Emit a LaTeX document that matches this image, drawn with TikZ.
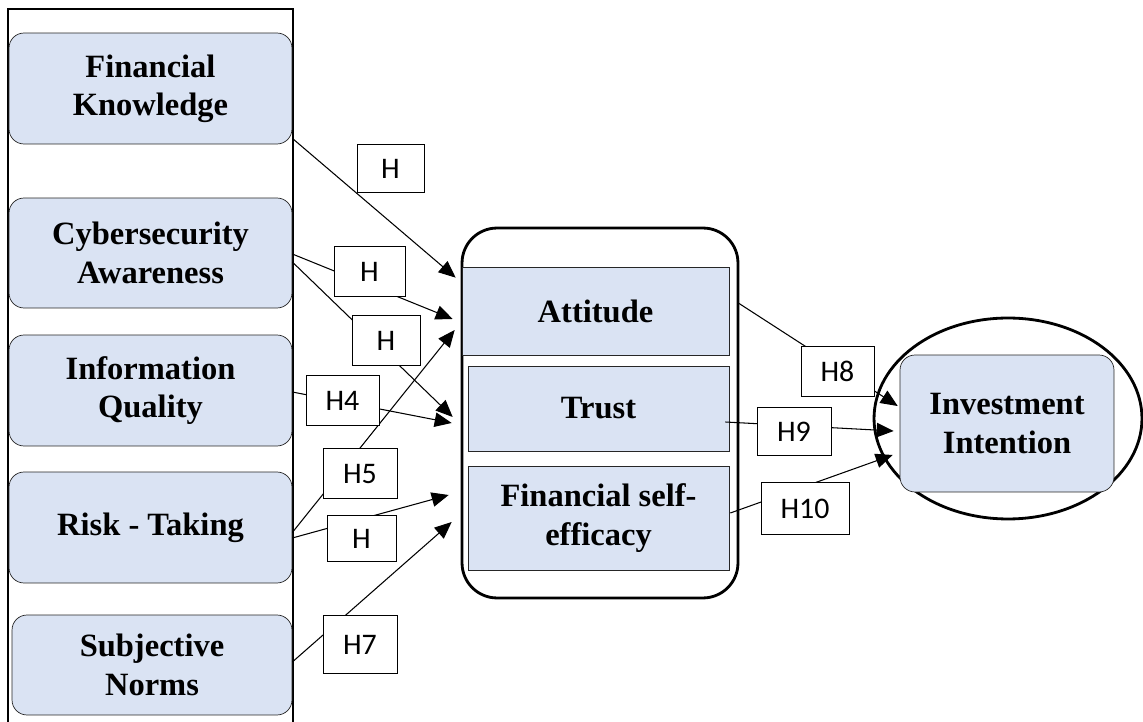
\documentclass[tikz,border=0pt]{standalone}
\usepackage{fontspec}
\setmainfont{Liberation Serif}
\newfontfamily\hypfont{Carlito}
\usetikzlibrary{shapes,arrows.meta,calc}
\definecolor{boxblue}{RGB}{218,227,243}
\newcommand{\bigbold}{\fontsize{18.5}{21.8}\selectfont\bfseries}
\tikzset{%
  factor/.style   = {draw=black!85, fill=boxblue, rectangle, rounded corners=0.3cm,
    align=center, font=\bigbold, inner sep=0pt}, % Antecedent
  mediator/.style = {draw=black!85, fill=boxblue, rectangle, align=center,
    font=\bigbold, inner sep=0pt}, % Mediator
  hyp/.style      = {draw, fill=white, rectangle, inner sep=0pt,
    font=\hypfont\fontsize{17}{20}\selectfont, text height=1.15em, text depth=0pt}, % Hypothesis
  link/.style     = {->, line width=0.6pt}
}

\begin{document}
\begin{tikzpicture}[x=0.02cm, y=-0.02cm, >={Triangle[length=3.4mm,width=2.9mm]}]
\useasboundingbox (0,0) rectangle (1143,722);
	% Frame round the antecedents :
	\draw[line width=1.1pt] (8,9) rectangle (293,740);
\draw
	% Antecedent blocks
	node at (150.5,88.5) [factor, minimum width=5.66cm, minimum height=2.22cm] (fk) {Financial\\Knowledge}
	node at (150.5,253) [factor, minimum width=5.66cm, minimum height=2.2cm] (ca) {Cybersecurity\\Awareness}
	node at (150.5,390.5) [factor, minimum width=5.66cm, minimum height=2.22cm] (iq) {Information\\Quality}
	node at (150.5,527.5) [factor, minimum width=5.66cm, minimum height=2.22cm] (rt) {Risk - Taking}
	node at (152,665) [factor, minimum width=5.6cm, minimum height=2cm] (sn) {Subjective\\Norms}
;
\draw
	% Mediators inside the rounded container
	node at (600,413) [draw, line width=1.6pt, rectangle, rounded corners=0.7cm,
		minimum width=5.52cm, minimum height=7.4cm] (med) {}
	node at (595.5,311) [mediator, minimum width=5.34cm, minimum height=1.76cm] (att) {Attitude}
	node at (598.5,408.5) [mediator, minimum width=5.22cm, minimum height=1.7cm] (tr) {Trust}
	node at (598.5,518) [mediator, minimum width=5.22cm, minimum height=2.08cm] (fse) {Financial self-\\efficacy}
;
\draw
	% Outcome
	node at (1008,418.5) [ellipse, draw, line width=1.6pt, inner sep=0pt,
		minimum width=5.36cm, minimum height=4.02cm] (oval) {}
	node at (1007,423.5) [factor, minimum width=4.28cm, minimum height=2.74cm] (inv) {Investment\\Intention}
;
	% Joining blocks (labels are drawn later, on top)
	\draw[link] ($(fk.south east)+(0,-6)$) -- ($(att.north west)+(-6,11)$);
	\draw[link] ($(ca.east)+(0,1)$) -- ($(att.west)+(-9,8)$);
	\draw[link] ($(ca.east)+(0,9)$) -- ($(tr.west)+(-15,8.5)$);
	\draw[link] ($(iq.east)+(0,1.5)$) -- ($(tr.west)+(-16,14.5)$);
	\draw[link] ($(rt.east)+(0,5)$) -- ($(att.west)+(-7,19)$);
	\draw[link] ($(rt.east)+(0,10.5)$) -- ($(fse.west)+(-19,-23)$);
	\draw[link] ($(sn.east)+(0,-3)$) -- ($(fse.west)+(-16,4)$);
	\draw[link] ($(att.east)+(9,-8)$) -- ($(inv.west)+(-2,-17.5)$);
	\draw[link] ($(tr.east)+(-4,13.5)$) -- ($(inv.west)+(-6,7.5)$);
	\draw[link] ($(fse.east)+(1,-5)$) -- ($(inv.west)+(-7,31.5)$);
\draw
	% Hypothesis labels
	node at (390.5,168) [hyp, minimum width=1.34cm, minimum height=0.96cm] (h1) {H}
	node at (369.5,271) [hyp, minimum width=1.42cm, minimum height=1cm] (h2) {H}
	node at (386,340) [hyp, minimum width=1.36cm, minimum height=1cm] (h3) {H}
	node at (342.5,400) [hyp, minimum width=1.46cm, minimum height=1cm] (h4) {H4}
	node at (360,473) [hyp, minimum width=1.48cm, minimum height=1cm] (h5) {H5}
	node at (361.5,538) [hyp, minimum width=1.38cm, minimum height=0.92cm] (h6) {H}
	node at (360,644) [hyp, minimum width=1.48cm, minimum height=1.16cm] (h7) {H7}
	node at (837.5,371) [hyp, minimum width=1.46cm, minimum height=1cm] (h8) {H8}
	node at (794,431) [hyp, minimum width=1.48cm, minimum height=0.96cm] (h9) {H9}
	node at (805,508) [hyp, minimum width=1.76cm, minimum height=1.04cm] (h10) {H10}
;
\end{tikzpicture}
\end{document}
